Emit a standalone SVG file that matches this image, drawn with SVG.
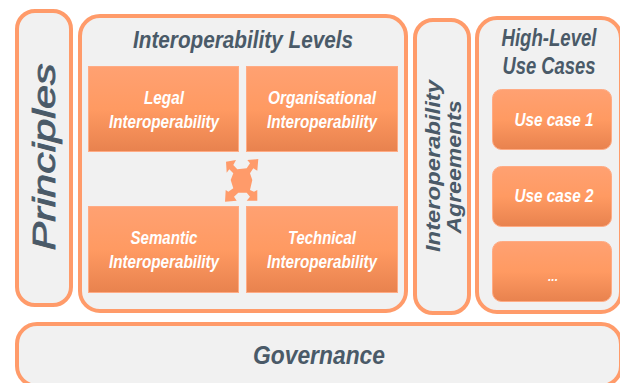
<svg xmlns="http://www.w3.org/2000/svg" width="620" height="383" viewBox="0 0 620 383">
<style>
.panel{fill:#f1f1f1;stroke:#ff9b6a;stroke-width:4}
.box{fill:url(#grad);stroke:#ffab84;stroke-width:1}
text{font-family:"Liberation Sans",Arial,sans-serif;font-style:italic;text-anchor:middle}
.h{fill:#4a5a68;font-weight:bold}
.n{fill:#4a5a68;font-weight:normal}
.w{fill:#fff;font-weight:bold;font-size:18px}
.d{fill:#fff;font-weight:bold;font-size:12px}
.i{fill:#ff9b6a}
</style>
<defs>
<linearGradient id="grad" x1="0" y1="0" x2="0" y2="1">
<stop offset="0" stop-color="#ffa172"/><stop offset="0.5" stop-color="#ff9a62"/><stop offset="1" stop-color="#e8824e"/>
</linearGradient>
</defs>
<rect width="620" height="383" fill="#fff"/>
<g id="principles">
<rect class="panel" x="17" y="11" width="54" height="294" rx="18"/>
<text class="n" transform="translate(55,157) rotate(-90)" font-size="32" stroke="#4a5a68" stroke-width="0.8" textLength="187" lengthAdjust="spacingAndGlyphs">Principles</text>
</g>
<g id="levels">
<rect class="panel" x="80" y="16" width="326" height="295" rx="20"/>
<text class="h" x="243" y="48" font-size="23" textLength="220" lengthAdjust="spacingAndGlyphs">Interoperability Levels</text>
</g>
<g id="legal">
<rect class="box" x="88.500" y="66.500" width="150" height="85"/>
<text class="w" x="164" y="104" textLength="40" lengthAdjust="spacingAndGlyphs">Legal</text>
<text class="w" x="164" y="128" textLength="110" lengthAdjust="spacingAndGlyphs">Interoperability</text>
</g>
<g id="organisational">
<rect class="box" x="246.500" y="66.500" width="151" height="85"/>
<text class="w" x="322" y="104" textLength="108" lengthAdjust="spacingAndGlyphs">Organisational</text>
<text class="w" x="322" y="128" textLength="110" lengthAdjust="spacingAndGlyphs">Interoperability</text>
</g>
<g id="semantic">
<rect class="box" x="88.500" y="206.500" width="150" height="86"/>
<text class="w" x="164" y="244" textLength="67" lengthAdjust="spacingAndGlyphs">Semantic</text>
<text class="w" x="164" y="268" textLength="110" lengthAdjust="spacingAndGlyphs">Interoperability</text>
</g>
<g id="technical">
<rect class="box" x="246.500" y="206.500" width="151" height="86"/>
<text class="w" x="322" y="244" textLength="68" lengthAdjust="spacingAndGlyphs">Technical</text>
<text class="w" x="322" y="268" textLength="110" lengthAdjust="spacingAndGlyphs">Interoperability</text>
</g>
<g id="exchange-icon">
<path class="i" d="M226 161.700L236 160L233.300 165L237.300 169.300L246.700 168.300L250 163.300L247.300 160L258.300 159L257.300 170.700L253.300 168.300L250 173.300L252.300 180L250 190L254 191.700L257.300 190L257.300 200.700L246.700 200.700L250 196.700L246.700 192.700L238.300 192.700L234 196.700L236.700 200.700L225 201.700L225.700 190L228.300 191.700L233.300 188.300L230.700 180L233.300 173.300L229.300 169.300L226.700 172.700Z"/>
</g>
<g id="agreements">
<rect class="panel" x="415" y="20" width="54" height="293" rx="18"/>
<text class="h" transform="translate(440,166) rotate(-90)" font-size="21" textLength="172" lengthAdjust="spacingAndGlyphs">Interoperability</text>
<text class="h" transform="translate(461,167) rotate(-90)" font-size="21" textLength="133" lengthAdjust="spacingAndGlyphs">Agreements</text>
</g>
<g id="use-cases">
<rect class="panel" x="477" y="18" width="144" height="294" rx="20"/>
<text class="h" x="549" y="46" font-size="23" textLength="95" lengthAdjust="spacingAndGlyphs">High-Level</text>
<text class="h" x="549" y="74" font-size="23" textLength="93" lengthAdjust="spacingAndGlyphs">Use Cases</text>
</g>
<g id="use-case-1">
<rect class="box" x="492.500" y="89.500" width="119" height="60" rx="9"/>
<text class="w" x="554" y="126" textLength="79" lengthAdjust="spacingAndGlyphs">Use case 1</text>
</g>
<g id="use-case-2">
<rect class="box" x="492.500" y="166.500" width="119" height="60" rx="9"/>
<text class="w" x="554" y="202" textLength="79" lengthAdjust="spacingAndGlyphs">Use case 2</text>
</g>
<g id="use-case-3">
<rect class="box" x="492.500" y="241.500" width="119" height="60" rx="9"/>
<text class="d" x="553" y="281">...</text>
</g>
<g id="governance">
<rect class="panel" x="17" y="324" width="604" height="62" rx="20"/>
<text class="h" x="319" y="364" font-size="25" textLength="132" lengthAdjust="spacingAndGlyphs">Governance</text>
</g>
<g id="connectors"/>
</svg>
